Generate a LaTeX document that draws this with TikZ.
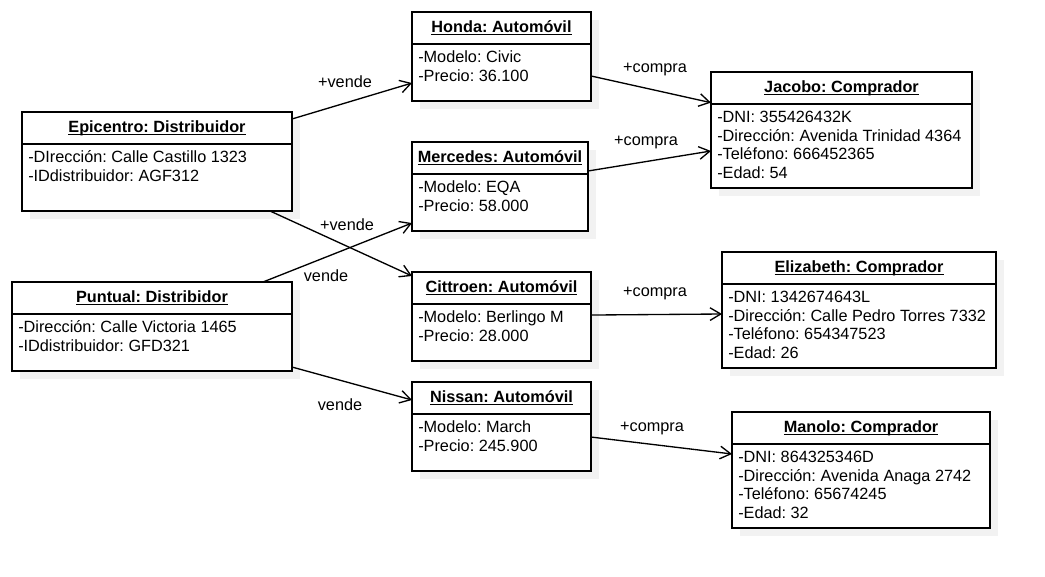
\documentclass[tikz,border=0pt]{standalone}
\usepackage{fontspec}
\setmainfont{Liberation Sans}
\usetikzlibrary{arrows.meta,shapes,positioning,shadows}
\newcommand{\titulo}[1]{\setbox0=\hbox{\bfseries #1}\rlap{\rule[-2pt]{\wd0}{0.9pt}}\box0}
\frenchspacing

\begin{document}
\begin{tikzpicture}[x=0.75pt, y=-0.75pt,
    font=\fontsize{12.2pt}{14.2pt}\selectfont,
    caja/.style={draw, line width=1pt, fill=white, inner sep=0pt, outer sep=0pt,
      drop shadow={shadow xshift=6pt, shadow yshift=-6pt, fill=gray!10, opacity=1}},
    cab/.style={caja, minimum height=24pt, anchor=north west},
    cue/.style={caja},
    atr/.style={anchor=north west, align=left, inner sep=0pt, shift={(6,6.5)}},
    rel/.style={line width=1pt, -{Straight Barb[length=8pt,width=9.5pt]}},
    etq/.style={inner sep=0pt}]
           \useasboundingbox (0,0) rectangle (1045,577);
           % distribuidores
           \node [cab, minimum width=202.5pt] (Epicentro) at (22,112) {\titulo{Epicentro: Distribuidor}};
           \node [cue, minimum width=202.5pt, minimum height=50.25pt, below=0pt of Epicentro] (EpicentroB) {};
           \node [atr] (EpicentroT) at (EpicentroB.north west) {-DIrección: Calle Castillo 1323\\-IDdistribuidor: AGF312};
           \node [cab, minimum width=210pt] (Puntual) at (12,282) {\titulo{Puntual: Distribidor}};
           \node [cue, minimum width=210pt, minimum height=42.75pt, below=0pt of Puntual] (PuntualB) {};
           \node [atr] (PuntualT) at (PuntualB.north west) {-Dirección: Calle Victoria 1465\\-IDdistribuidor: GFD321};
           % automoviles
           \node [cab, minimum width=134.25pt] (Honda) at (412,12) {\titulo{Honda: Automóvil}};
           \node [cue, minimum width=134.25pt, minimum height=42.75pt, below=0pt of Honda] (HondaB) {};
           \node [atr] (HondaT) at (HondaB.north west) {-Modelo: Civic\\-Precio: 36.100};
           \node [cab, minimum width=132pt] (Mercedes) at (412,142) {\titulo{Mercedes: Automóvil}};
           \node [cue, minimum width=132pt, minimum height=42.75pt, below=0pt of Mercedes] (MercedesB) {};
           \node [atr] (MercedesT) at (MercedesB.north west) {-Modelo: EQA\\-Precio: 58.000};
           \node [cab, minimum width=134.25pt] (Cittroen) at (412,272) {\titulo{Cittroen: Automóvil}};
           \node [cue, minimum width=134.25pt, minimum height=42.75pt, below=0pt of Cittroen] (CittroenB) {};
           \node [atr] (CittroenT) at (CittroenB.north west) {-Modelo: Berlingo M\\-Precio: 28.000};
           \node [cab, minimum width=134.25pt] (Nissan) at (412,382) {\titulo{Nissan: Automóvil}};
           \node [cue, minimum width=134.25pt, minimum height=42.75pt, below=0pt of Nissan] (NissanB) {};
           \node [atr] (NissanT) at (NissanB.north west) {-Modelo: March\\-Precio: 245.900};
           % compradores
           \node [cab, minimum width=195.75pt] (Jacobo) at (711,72) {\titulo{Jacobo: Comprador}};
           \node [cue, minimum width=195.75pt, minimum height=63pt, below=0pt of Jacobo] (JacoboB) {};
           \node [atr] (JacoboT) at (JacoboB.north west) {-DNI: 355426432K\\-Dirección: Avenida Trinidad 4364\\-Teléfono: 666452365\\-Edad: 54};
           \node [cab, minimum width=205.5pt] (Elizabeth) at (722,252) {\titulo{Elizabeth: Comprador}};
           \node [cue, minimum width=205.5pt, minimum height=63pt, below=0pt of Elizabeth] (ElizabethB) {};
           \node [atr] (ElizabethT) at (ElizabethB.north west) {-DNI: 1342674643L\\-Dirección: Calle Pedro Torres 7332\\-Teléfono: 654347523\\-Edad: 26};
           \node [cab, minimum width=193.5pt] (Manolo) at (732,412) {\titulo{Manolo: Comprador}};
           \node [cue, minimum width=193.5pt, minimum height=63pt, below=0pt of Manolo] (ManoloB) {};
           \node [atr] (ManoloT) at (ManoloB.north west) {-DNI: 864325346D\\-Dirección: Avenida Anaga 2742\\-Teléfono: 65674245\\-Edad: 32};
           % relaciones
           \draw [rel] ([yshift=6.75pt]Epicentro.east) -- ([yshift=-7.9pt]HondaB.west);
           \draw [rel] ([xshift=84.75pt]EpicentroB.south) -- ([yshift=9pt]Cittroen.west);
           \draw [rel] ([xshift=83.25pt]Puntual.north) -- ([yshift=-15.4pt]MercedesB.west);
           \draw [rel] ([yshift=-18.4pt]PuntualB.east) -- ([yshift=-1.5pt]Nissan.west);
           \draw [rel] ([yshift=-2.6pt]HondaB.east) -- ([yshift=1pt]Jacobo.south west);
           \draw [rel] ([yshift=-9.75pt]Mercedes.east) -- ([yshift=-3.75pt]JacoboB.west);
           \draw [rel] ([yshift=13.1pt]CittroenB.east) -- ([yshift=9pt]ElizabethB.west);
           \draw [rel] ([yshift=4.1pt]NissanB.east) -- ([yshift=24pt]ManoloB.west);
           \node [etq] (v1) at (345,82) {+vende};
           \node [etq] (v2) at (347,225) {+vende};
           \node [etq] (v3) at (326,276) {vende};
           \node [etq] (v4) at (340,405) {vende};
           \node [etq] (c1) at (655,69) {+compra};
           \node [etq] (c2) at (646,142) {+compra};
           \node [etq] (c3) at (655,293) {+compra};
           \node [etq] (c4) at (652,428) {+compra};
      \end{tikzpicture}
\end{document}
